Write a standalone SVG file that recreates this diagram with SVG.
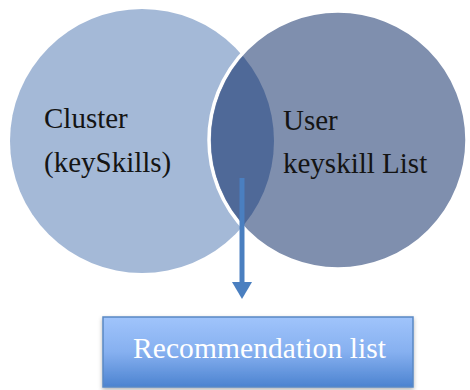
<svg xmlns="http://www.w3.org/2000/svg" width="470" height="390" viewBox="0 0 470 390">
<style>
.lbl{font-family:'Liberation Serif','Times New Roman',serif;font-size:29px;fill:#141414}
.wl{font-family:'Liberation Serif','Times New Roman',serif;font-size:29.5px;fill:#ffffff}
</style>
<defs>
<linearGradient id="bg" x1="0" y1="0" x2="0" y2="1">
<stop offset="0" stop-color="#a0c4fb"/>
<stop offset="0.5" stop-color="#86b0f0"/>
<stop offset="1" stop-color="#4c83d0"/>
</linearGradient>
<clipPath id="lc"><circle cx="142" cy="141" r="132"/></clipPath>
<filter id="sh" x="-10%" y="-20%" width="120%" height="150%">
<feDropShadow dx="0" dy="2" stdDeviation="2" flood-color="#000" flood-opacity="0.3"/>
</filter>
<marker id="ah" markerWidth="4" markerHeight="4" refX="0" refY="2" orient="auto" markerUnits="strokeWidth"><path d="M0,0 L3.4,2 L0,4 Z" fill="#4a7fc0"/></marker>
</defs>
<g id="cluster">
<circle cx="142" cy="141" r="132" fill="#a4b9d7"/>
<text class="lbl" x="44" y="128">Cluster</text>
<text class="lbl" x="44" y="172">(keySkills)</text>
</g>
<g id="user">
<circle cx="338" cy="140" r="129" fill="#7f8fae" stroke="#ffffff" stroke-width="3.5"/>
<circle cx="338" cy="140" r="127" fill="#4f6998" clip-path="url(#lc)"/>
<text class="lbl" x="283" y="130">User</text>
<text class="lbl" x="283" y="173">keyskill List</text>
</g>
<g id="connectors">
<line x1="242" y1="178" x2="242" y2="282" stroke="#4a7fc0" stroke-width="5" marker-end="url(#ah)"/>
</g>
<g id="recommendation">
<rect x="103" y="317" width="310" height="70" fill="url(#bg)" stroke="#5a88c4" stroke-width="1.5" filter="url(#sh)"/>
<text class="wl" x="133" y="358" textLength="253" lengthAdjust="spacing">Recommendation list</text>
</g>
</svg>
